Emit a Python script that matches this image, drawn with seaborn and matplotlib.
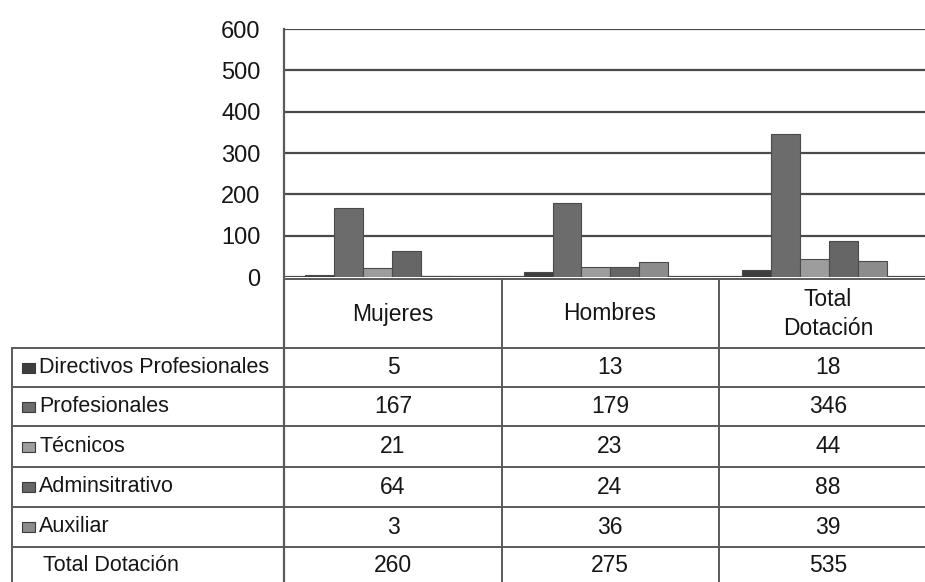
import matplotlib
matplotlib.use("Agg")
import matplotlib.pyplot as plt
import seaborn as sns
import pandas as pd

# ---- data ----
grupos = ["Mujeres", "Hombres", "Total Dotación"]
grupos_header = ["Mujeres", "Hombres", "Total\nDotación"]
cargos = ["Directivos Profesionales", "Profesionales", "Técnicos", "Adminsitrativo", "Auxiliar"]
directivos = [5, 13, 18]
profesionales = [167, 179, 346]
tecnicos = [21, 23, 44]
administrativo = [64, 24, 88]
auxiliar = [3, 36, 39]
total_dotacion = [260, 275, 535]
yticks = [0, 100, 200, 300, 400, 500, 600]

series = [directivos, profesionales, tecnicos, administrativo, auxiliar]
colores = ["#3e3e3e", "#6c6c6c", "#9d9d9d", "#666666", "#8c8c8c"]

sns.set_theme(style="white")
plt.rcParams['font.family'] = ['Liberation Sans', 'DejaVu Sans']

rows = []
for c, vals in zip(cargos, series):
    for g, v in zip(grupos, vals):
        rows.append({"grupo": g, "cargo": c, "valor": v})
df = pd.DataFrame(rows)

W, H = 925, 582
fig = plt.figure(figsize=(W / 100, H / 100), dpi=100)
fig.patch.set_facecolor("white")

# main bar axes
ax = fig.add_axes([284 / W, 1 - 277 / H, 1 - 284 / W, (277 - 29) / H])
sns.barplot(data=df, x="grupo", y="valor", hue="cargo", order=grupos,
            hue_order=cargos, palette=colores, width=0.665, errorbar=None,
            edgecolor="#4a4a4a", linewidth=0.8, legend=False, ax=ax, zorder=3)
ax.set_xlim(-0.431, 2.509)
ax.set_ylim(0, 600)
ax.set_yticks(yticks)
ax.set_yticklabels([str(t) for t in yticks])
ax.set_xticks([])
ax.set_xlabel("")
ax.set_ylabel("")
ax.yaxis.grid(True, color="#4a4a4a", linewidth=1.6, zorder=0)
ax.set_axisbelow(True)
ax.tick_params(axis="y", length=0, pad=17, labelsize=17, labelcolor="#161616")
for s in ["top", "right", "bottom"]:
    ax.spines[s].set_visible(False)
ax.spines["left"].set_color("#5a5a5a")
ax.spines["left"].set_linewidth(1.6)
ax.set_facecolor("none")

# table overlay (pixel coordinates)
tb = fig.add_axes([0, 0, 1, 1], zorder=-1)
tb.set_xlim(0, W)
tb.set_ylim(H, 0)
tb.axis("off")
lc = "#5a5a5a"
lw = 1.4
col_x = [284, 502, 719, 936]
row_y = [348, 387, 426, 467, 507, 547, 584]
header_top = 279
tb.plot([284, W], [header_top, header_top], color=lc, lw=lw)
for y in row_y[:-1]:
    tb.plot([12, W], [y, y], color=lc, lw=lw)
tb.plot([12, 12], [row_y[0], H], color=lc, lw=lw)
tb.plot([284, 284], [header_top, H], color=lc, lw=1.6)
for x in col_x[1:3]:
    tb.plot([x, x], [header_top, H], color=lc, lw=lw)

tc = "#161616"
fs = 16.5
fs_lab = 15.5
centers = [393, 610, 828]
for cx, h in zip(centers, grupos_header):
    tb.text(cx, 314, h, ha="center", va="center", fontsize=fs, color=tc,
            linespacing=1.3)
all_rows = list(zip(cargos, series, colores)) + [("Total Dotación", total_dotacion, None)]
for i, (lab, vals, col) in enumerate(all_rows):
    yc = (row_y[i] + row_y[i + 1]) / 2
    if col is not None:
        tb.add_patch(plt.Rectangle((22, yc - 5), 13, 10, facecolor=col,
                                   edgecolor="#3a3a3a", lw=0.8))
        tb.text(39, yc, lab, ha="left", va="center", fontsize=fs_lab, color=tc)
    else:
        tb.text(43, yc, lab, ha="left", va="center", fontsize=fs_lab, color=tc)
    for cx, v in zip(centers, vals):
        tb.text(cx, yc, str(v), ha="center", va="center", fontsize=fs, color=tc)

fig.savefig("out.png", dpi=100, facecolor="white")
